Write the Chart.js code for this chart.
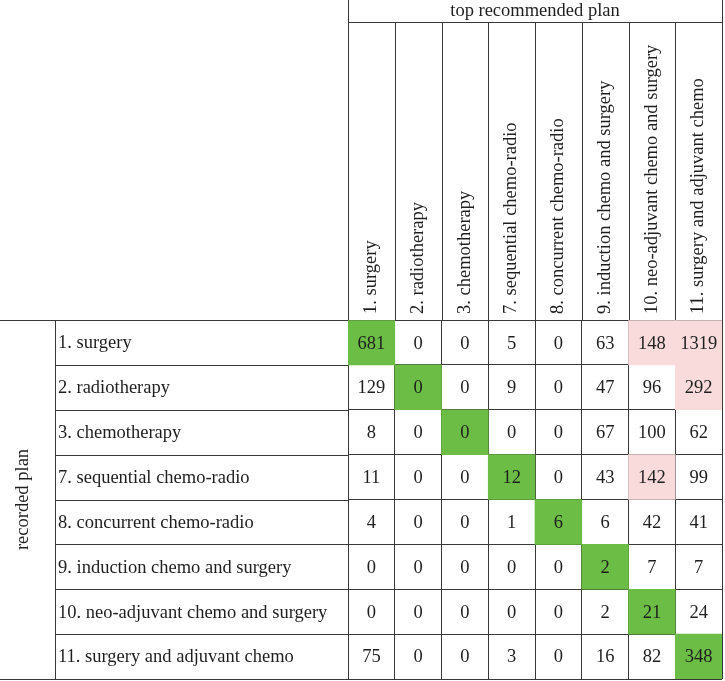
<!DOCTYPE html>
<html>
<head>
<meta charset="utf-8">
<script src="https://cdn.jsdelivr.net/npm/chart.js@4.4.0/dist/chart.umd.min.js"></script>
<style>
  html, body { margin: 0; padding: 0; background: #fff; }
</style>
</head>
<body>
<canvas id="chart" width="725" height="681"></canvas>
<script>
// columns: top recommended plan
var recommendedPlans = ['1. surgery', '2. radiotherapy', '3. chemotherapy', '7. sequential chemo-radio',
  '8. concurrent chemo-radio', '9. induction chemo and surgery',
  '10. neo-adjuvant chemo and surgery', '11. surgery and adjuvant chemo'];
// rows: recorded plan
var recordedPlans = ['1. surgery', '2. radiotherapy', '3. chemotherapy', '7. sequential chemo-radio',
  '8. concurrent chemo-radio', '9. induction chemo and surgery',
  '10. neo-adjuvant chemo and surgery', '11. surgery and adjuvant chemo'];

// counts per recorded plan, one value per recommended plan
var recSurgery      = [681, 0, 0, 5, 0, 63, 148, 1319];
var recRadiotherapy = [129, 0, 0, 9, 0, 47, 96, 292];
var recChemotherapy = [8, 0, 0, 0, 0, 67, 100, 62];
var recSeqChemoRad  = [11, 0, 0, 12, 0, 43, 142, 99];
var recConcChemoRad = [4, 0, 0, 1, 6, 6, 42, 41];
var recInduction    = [0, 0, 0, 0, 0, 2, 7, 7];
var recNeoAdjuvant  = [0, 0, 0, 0, 0, 2, 21, 24];
var recAdjuvant     = [75, 0, 0, 3, 0, 16, 82, 348];
var counts = [recSurgery, recRadiotherapy, recChemotherapy, recSeqChemoRad,
  recConcChemoRad, recInduction, recNeoAdjuvant, recAdjuvant];

// off-diagonal cells marked in the table [row, col]
var flagged = [[0, 6], [0, 7], [1, 7], [3, 6]];

var GREEN = '#6cbd45';
var PINK = '#f9dbdc';
var LINE = '#383838';
var TEXT = '#1e1e1e';
var FONT = '18.5px "Liberation Serif", "Times New Roman", serif';

Chart.defaults.font.family = '"Liberation Serif", "Times New Roman", serif';
Chart.defaults.font.size = 18.5;
Chart.defaults.color = TEXT;

function isFlagged(r, c) {
  return flagged.some(function(f) { return f[0] === r && f[1] === c; });
}

var datasets = counts.map(function(row, r) {
  return {
    label: recordedPlans[r],
    data: row.map(function() { return [r, r + 1]; }),
    backgroundColor: row.map(function(v, c) {
      if (c === r) return GREEN;
      if (isFlagged(r, c)) return PINK;
      return 'rgba(0,0,0,0)';
    }),
    borderWidth: 0,
    grouped: false,
    barPercentage: 1,
    categoryPercentage: 1
  };
});

function px(v) { return Math.round(v) + 0.5; }

var tablePlugin = {
  id: 'tableFrame',
  afterDraw: function(chart) {
    var ctx = chart.ctx, area = chart.chartArea;
    var xs = chart.scales.x, ys = chart.scales.y;
    var n = recommendedPlans.length;
    var cw = (area.right - area.left) / n;
    var headLine = 22, labelLine = 55;

    ctx.save();
    ctx.strokeStyle = LINE;
    ctx.lineWidth = 1;
    ctx.beginPath();
    // column separators through the header
    for (var j = 0; j <= n; j++) {
      var x = px(area.left + j * cw);
      var y0 = (j === 0 || j === n) ? 0 : headLine;
      ctx.moveTo(x, y0);
      ctx.lineTo(x, area.top);
    }
    ctx.moveTo(area.left, px(headLine));
    ctx.lineTo(area.right, px(headLine));
    // row label column
    ctx.moveTo(0, px(area.top));
    ctx.lineTo(area.left, px(area.top));
    ctx.moveTo(0, px(area.bottom));
    ctx.lineTo(area.left, px(area.bottom));
    ctx.moveTo(px(labelLine), area.top);
    ctx.lineTo(px(labelLine), area.bottom);
    for (var r = 1; r < recordedPlans.length; r++) {
      var yy = px(ys.getPixelForValue(r));
      ctx.moveTo(labelLine, yy);
      ctx.lineTo(area.left, yy);
    }
    ctx.moveTo(px(area.right), area.top);
    ctx.lineTo(px(area.right), area.bottom);
    ctx.stroke();

    ctx.fillStyle = TEXT;
    ctx.font = FONT;
    // rotated column headers
    recommendedPlans.forEach(function(lab, j) {
      ctx.save();
      ctx.translate(xs.getPixelForValue(j), area.top - 6);
      ctx.rotate(-Math.PI / 2);
      ctx.textAlign = 'left';
      ctx.textBaseline = 'middle';
      ctx.fillText(lab, 0, 0);
      ctx.restore();
    });
    // row labels
    ctx.textAlign = 'left';
    ctx.textBaseline = 'middle';
    recordedPlans.forEach(function(lab, r) {
      ctx.fillText(lab, labelLine + 3, ys.getPixelForValue(r + 0.5) + 1);
    });
    // cell values
    ctx.textAlign = 'center';
    chart.data.datasets.forEach(function(ds, r) {
      var meta = chart.getDatasetMeta(r);
      meta.data.forEach(function(bar, c) {
        ctx.fillText(String(counts[r][c]), bar.x, (bar.y + bar.base) / 2 + 1);
      });
    });
    ctx.restore();
  }
};

new Chart(document.getElementById('chart'), {
  type: 'bar',
  data: { labels: recommendedPlans, datasets: datasets },
  options: {
    responsive: false,
    devicePixelRatio: 1,
    animation: false,
    layout: { padding: { top: 0, right: 3, bottom: 2, left: 0 } },
    plugins: { legend: { display: false }, tooltip: { enabled: false } },
    scales: {
      x: {
        position: 'top',
        z: 1,
        grid: { color: LINE, drawTicks: false, offset: true },
        border: { color: LINE },
        ticks: { display: false },
        title: { display: true, text: 'top recommended plan', padding: { top: 0, bottom: 0 } },
        afterFit: function(scale) { scale.height = 320; }
      },
      y: {
        reverse: true,
        min: 0,
        max: 8,
        z: 1,
        grid: { color: LINE, drawTicks: false },
        border: { color: LINE },
        ticks: { display: false, stepSize: 1 },
        title: { display: true, text: 'recorded plan', padding: { top: 12, bottom: 0 } },
        afterFit: function(scale) { scale.width = 348; }
      }
    }
  },
  plugins: [tablePlugin]
});
</script>
</body>
</html>
